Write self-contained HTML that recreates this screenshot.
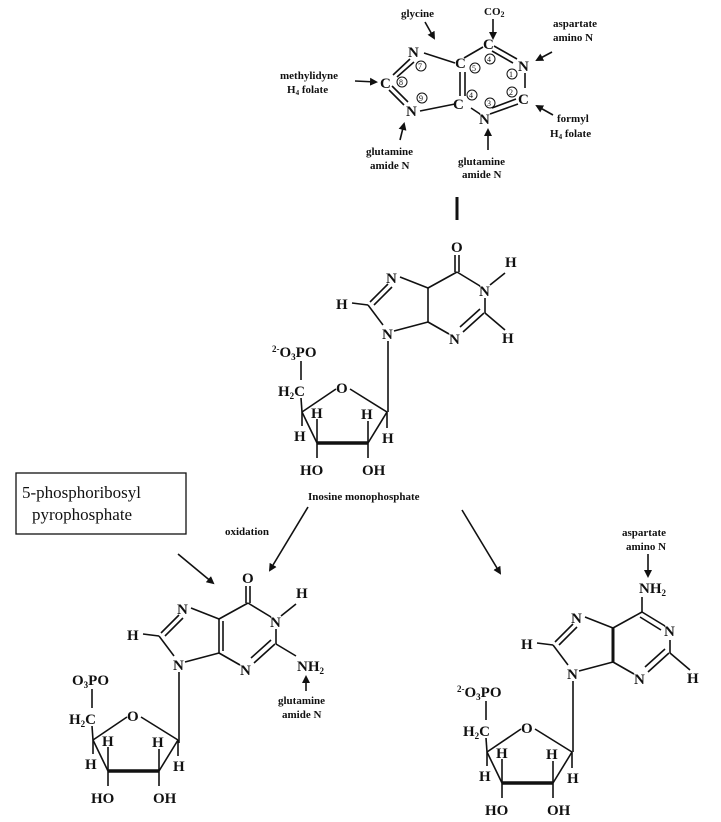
<!DOCTYPE html>
<html><head><meta charset="utf-8"><style>
html,body{margin:0;padding:0;background:#fff;}
svg{display:block;}
text{font-family:"Liberation Serif",serif;fill:#111;}
.a{font-size:15px;font-weight:bold;}
.s{font-size:11px;font-weight:bold;}
.c{font-size:8px;}
line,polyline,path{stroke:#111;stroke-width:1.6;fill:none;}
</style></head><body>
<svg width="721" height="822" viewBox="0 0 721 822" xmlns="http://www.w3.org/2000/svg">
<defs><marker id="ar" markerWidth="8" markerHeight="8" refX="6" refY="4" orient="auto" markerUnits="userSpaceOnUse"><path d="M0,0 L8,4 L0,8 z" style="fill:#111;stroke:none"/></marker></defs>

<!-- TOP PURINE -->
<g>
<text class="a" x="408" y="57">N</text>
<text class="a" x="380" y="88">C</text>
<text class="a" x="406" y="116">N</text>
<text class="a" x="455" y="68">C</text>
<text class="a" x="483" y="49">C</text>
<text class="a" x="518" y="71">N</text>
<text class="a" x="518" y="104">C</text>
<text class="a" x="479" y="124">N</text>
<text class="a" x="453" y="109">C</text>
<line x1="424" y1="53" x2="455" y2="63"/>
<line x1="464" y1="58" x2="483" y2="47"/>
<line x1="494" y1="46" x2="517" y2="59"/><line x1="492" y1="51" x2="513" y2="63"/>
<line x1="525" y1="73" x2="525" y2="88"/>
<line x1="518" y1="104" x2="490" y2="114"/><line x1="516" y1="99" x2="492" y2="108"/>
<line x1="471" y1="108" x2="480" y2="114"/>
<line x1="460" y1="72" x2="460" y2="96"/><line x1="465" y1="72" x2="465" y2="96"/>
<line x1="455" y1="104" x2="420" y2="111"/>
<line x1="410" y1="59" x2="393" y2="75"/><line x1="414" y1="62" x2="397" y2="77"/>
<line x1="392" y1="86" x2="408" y2="102"/><line x1="389" y1="90" x2="404" y2="105"/>
<g style="stroke-width:1">
<circle cx="421" cy="66" r="5" style="fill:none;stroke:#111"/><circle cx="402" cy="82" r="5" style="fill:none;stroke:#111"/><circle cx="422" cy="98" r="5" style="fill:none;stroke:#111"/>
<circle cx="475" cy="68" r="5" style="fill:none;stroke:#111"/><circle cx="490" cy="59" r="5" style="fill:none;stroke:#111"/><circle cx="512" cy="74" r="5" style="fill:none;stroke:#111"/>
<circle cx="512" cy="92" r="5" style="fill:none;stroke:#111"/><circle cx="472" cy="95" r="5" style="fill:none;stroke:#111"/><circle cx="490" cy="103" r="5" style="fill:none;stroke:#111"/>
</g>
<text class="c" x="418" y="69">7</text><text class="c" x="399" y="85">8</text><text class="c" x="419" y="101">9</text>
<text class="c" x="472" y="71">5</text><text class="c" x="487" y="62">4</text><text class="c" x="509" y="77">1</text>
<text class="c" x="509" y="95">2</text><text class="c" x="469" y="98">4</text><text class="c" x="487" y="106">3</text>
<text class="s" x="484" y="15">CO<tspan font-size="8" dy="2">2</tspan></text>
<line x1="493" y1="19" x2="493" y2="38" marker-end="url(#ar)"/>
<text class="s" x="401" y="17" font-size="10">glycine</text>
<line x1="425" y1="22" x2="434" y2="38" marker-end="url(#ar)"/>
<text class="s" x="553" y="27" font-size="10">aspartate</text>
<text class="s" x="553" y="41" font-size="10">amino N</text>
<line x1="552" y1="52" x2="537" y2="60" marker-end="url(#ar)"/>
<text class="s" x="280" y="79" font-size="10">methylidyne</text>
<text class="s" x="287" y="93" font-size="10">H<tspan font-size="7" dy="2">4</tspan><tspan dy="-2"> folate</tspan></text>
<line x1="355" y1="81" x2="376" y2="82" marker-end="url(#ar)"/>
<text class="s" x="557" y="122" font-size="10">formyl</text>
<text class="s" x="550" y="137" font-size="10">H<tspan font-size="7" dy="2">4</tspan><tspan dy="-2"> folate</tspan></text>
<line x1="553" y1="115" x2="537" y2="106" marker-end="url(#ar)"/>
<text class="s" x="366" y="155" font-size="10">glutamine</text>
<text class="s" x="370" y="169" font-size="10">amide N</text>
<line x1="400" y1="140" x2="404" y2="124" marker-end="url(#ar)"/>
<text class="s" x="458" y="165" font-size="10">glutamine</text>
<text class="s" x="462" y="178" font-size="10">amide N</text>
<line x1="488" y1="150" x2="488" y2="130" marker-end="url(#ar)"/>
<line x1="457" y1="197" x2="457" y2="220" style="stroke-width:3"/>
</g>

<!-- IMP -->
<g id="imp">
<text class="a" x="451" y="252">O</text>
<line x1="455" y1="255" x2="455" y2="272"/><line x1="459" y1="255" x2="459" y2="272"/>
<line x1="457" y1="272" x2="480" y2="286"/>
<text class="a" x="479" y="296">N</text>
<line x1="490" y1="285" x2="505" y2="273"/>
<text class="a" x="505" y="267">H</text>
<line x1="485" y1="298" x2="485" y2="313"/>
<line x1="485" y1="313" x2="505" y2="330"/>
<text class="a" x="502" y="343">H</text>
<line x1="484" y1="313" x2="463" y2="332"/><line x1="480" y1="309" x2="460" y2="327"/>
<text class="a" x="449" y="344">N</text>
<line x1="449" y1="334" x2="428" y2="322"/>
<line x1="428" y1="322" x2="428" y2="288"/>
<line x1="428" y1="288" x2="457" y2="272"/>
<line x1="428" y1="288" x2="400" y2="277"/>
<text class="a" x="386" y="283">N</text>
<line x1="388" y1="284" x2="370" y2="302"/><line x1="392" y1="287" x2="374" y2="305"/>
<line x1="368" y1="305" x2="352" y2="303"/>
<text class="a" x="336" y="309">H</text>
<line x1="368" y1="305" x2="383" y2="325"/>
<text class="a" x="382" y="339">N</text>
<line x1="394" y1="331" x2="428" y2="322"/>
<line x1="388" y1="341" x2="388" y2="412"/>
</g>
<g id="sug">
<text class="a" x="272" y="357"><tspan font-size="9" dy="-5">2-</tspan><tspan dy="5">O</tspan><tspan font-size="9" dy="3">3</tspan><tspan dy="-3">PO</tspan></text>
<line x1="301" y1="361" x2="301" y2="380"/>
<text class="a" x="278" y="396">H<tspan font-size="9" dy="3">2</tspan><tspan dy="-3">C</tspan></text>
<line x1="301" y1="398" x2="302" y2="412"/>
<line x1="302" y1="412" x2="336" y2="389"/>
<text class="a" x="336" y="393">O</text>
<line x1="350" y1="389" x2="387" y2="412"/>
<line x1="387" y1="412" x2="368" y2="443"/>
<line x1="368" y1="443" x2="317" y2="443" style="stroke-width:3.5"/>
<line x1="317" y1="443" x2="302" y2="412"/>
<line x1="302" y1="412" x2="302" y2="426"/>
<text class="a" x="294" y="441">H</text>
<line x1="317" y1="443" x2="317" y2="419"/>
<text class="a" x="311" y="418">H</text>
<line x1="368" y1="443" x2="368" y2="421"/>
<text class="a" x="361" y="419">H</text>
<line x1="387" y1="412" x2="387" y2="428"/>
<text class="a" x="382" y="443">H</text>
<line x1="317" y1="443" x2="317" y2="458"/>
<line x1="368" y1="443" x2="368" y2="458"/>
<text class="a" x="300" y="475">HO</text>
<text class="a" x="362" y="475">OH</text>
</g>
<text class="s" x="308" y="500" font-size="11">Inosine monophosphate</text>

<!-- arrows middle -->
<line x1="308" y1="507" x2="270" y2="570" marker-end="url(#ar)"/>
<text class="s" x="225" y="535" font-size="11">oxidation</text>
<line x1="462" y1="510" x2="500" y2="573" marker-end="url(#ar)"/>
<line x1="178" y1="554" x2="213" y2="583" marker-end="url(#ar)"/>

<!-- box -->
<rect x="16" y="473" width="170" height="61" style="fill:none;stroke:#111;stroke-width:1.3"/>
<text x="22" y="498" style="font-size:17px">5-phosphoribosyl</text>
<text x="32" y="520" style="font-size:17px">pyrophosphate</text>

<!-- GMP -->
<g transform="translate(-209,331)">
<text class="a" x="451" y="252">O</text>
<line x1="455" y1="255" x2="455" y2="272"/><line x1="459" y1="255" x2="459" y2="272"/>
<line x1="457" y1="272" x2="480" y2="286"/>
<text class="a" x="479" y="296">N</text>
<line x1="490" y1="285" x2="505" y2="273"/>
<text class="a" x="505" y="267">H</text>
<line x1="485" y1="298" x2="485" y2="313"/>
<line x1="485" y1="313" x2="505" y2="325"/>
<text class="a" x="506" y="340">NH<tspan font-size="9" dy="3">2</tspan></text>
<line x1="515" y1="360" x2="515" y2="346" marker-end="url(#ar)"/>
<text class="s" x="487" y="373" font-size="10">glutamine</text>
<text class="s" x="491" y="387" font-size="10">amide N</text>
<line x1="484" y1="313" x2="463" y2="332"/><line x1="480" y1="309" x2="460" y2="327"/>
<text class="a" x="449" y="344">N</text>
<line x1="449" y1="334" x2="428" y2="322"/>
<line x1="428" y1="322" x2="428" y2="288"/><line x1="432" y1="320" x2="432" y2="290"/>
<line x1="428" y1="288" x2="457" y2="272"/>
<line x1="428" y1="288" x2="400" y2="277"/>
<text class="a" x="386" y="283">N</text>
<line x1="388" y1="284" x2="370" y2="302"/><line x1="392" y1="287" x2="374" y2="305"/>
<line x1="368" y1="305" x2="352" y2="303"/>
<text class="a" x="336" y="309">H</text>
<line x1="368" y1="305" x2="383" y2="325"/>
<text class="a" x="382" y="339">N</text>
<line x1="394" y1="331" x2="428" y2="322"/>
<line x1="388" y1="341" x2="388" y2="412"/>
</g>
<g transform="translate(-209,328)">
<text class="a" x="281" y="357">O<tspan font-size="9" dy="3">3</tspan><tspan dy="-3">PO</tspan></text>
<line x1="301" y1="361" x2="301" y2="380"/>
<text class="a" x="278" y="396">H<tspan font-size="9" dy="3">2</tspan><tspan dy="-3">C</tspan></text>
<line x1="301" y1="398" x2="302" y2="412"/>
<line x1="302" y1="412" x2="336" y2="389"/>
<text class="a" x="336" y="393">O</text>
<line x1="350" y1="389" x2="387" y2="412"/>
<line x1="387" y1="412" x2="368" y2="443"/>
<line x1="368" y1="443" x2="317" y2="443" style="stroke-width:3.5"/>
<line x1="317" y1="443" x2="302" y2="412"/>
<line x1="302" y1="412" x2="302" y2="426"/>
<text class="a" x="294" y="441">H</text>
<line x1="317" y1="443" x2="317" y2="419"/>
<text class="a" x="311" y="418">H</text>
<line x1="368" y1="443" x2="368" y2="421"/>
<text class="a" x="361" y="419">H</text>
<line x1="387" y1="412" x2="387" y2="428"/>
<text class="a" x="382" y="443">H</text>
<line x1="317" y1="443" x2="317" y2="458"/>
<line x1="368" y1="443" x2="368" y2="458"/>
<text class="a" x="300" y="475">HO</text>
<text class="a" x="362" y="475">OH</text>
</g>

<!-- AMP -->
<g transform="translate(185,340)">
<text class="a" x="454" y="253">NH<tspan font-size="9" dy="3">2</tspan></text>
<text class="s" x="437" y="196" font-size="10">aspartate</text>
<text class="s" x="441" y="210" font-size="10">amino N</text>
<line x1="463" y1="214" x2="463" y2="236" marker-end="url(#ar)"/>
<line x1="457" y1="257" x2="457" y2="272"/>
<line x1="457" y1="272" x2="480" y2="286"/><line x1="455" y1="277" x2="476" y2="290"/>
<text class="a" x="479" y="296">N</text>
<line x1="485" y1="300" x2="485" y2="313"/>
<line x1="485" y1="313" x2="505" y2="330"/>
<text class="a" x="502" y="343">H</text>
<line x1="484" y1="313" x2="463" y2="332"/><line x1="480" y1="309" x2="460" y2="327"/>
<text class="a" x="449" y="344">N</text>
<line x1="449" y1="334" x2="428" y2="322"/>
<line x1="428" y1="322" x2="428" y2="288" style="stroke-width:3"/>
<line x1="428" y1="288" x2="457" y2="272"/>
<line x1="428" y1="288" x2="400" y2="277"/>
<text class="a" x="386" y="283">N</text>
<line x1="388" y1="284" x2="370" y2="302"/><line x1="392" y1="287" x2="374" y2="305"/>
<line x1="368" y1="305" x2="352" y2="303"/>
<text class="a" x="336" y="309">H</text>
<line x1="368" y1="305" x2="383" y2="325"/>
<text class="a" x="382" y="339">N</text>
<line x1="394" y1="331" x2="428" y2="322"/>
<line x1="388" y1="341" x2="388" y2="412"/>
</g>
<g transform="translate(185,340)">
<text class="a" x="272" y="357"><tspan font-size="9" dy="-5">2-</tspan><tspan dy="5">O</tspan><tspan font-size="9" dy="3">3</tspan><tspan dy="-3">PO</tspan></text>
<line x1="301" y1="361" x2="301" y2="380"/>
<text class="a" x="278" y="396">H<tspan font-size="9" dy="3">2</tspan><tspan dy="-3">C</tspan></text>
<line x1="301" y1="398" x2="302" y2="412"/>
<line x1="302" y1="412" x2="336" y2="389"/>
<text class="a" x="336" y="393">O</text>
<line x1="350" y1="389" x2="387" y2="412"/>
<line x1="387" y1="412" x2="368" y2="443"/>
<line x1="368" y1="443" x2="317" y2="443" style="stroke-width:3.5"/>
<line x1="317" y1="443" x2="302" y2="412"/>
<line x1="302" y1="412" x2="302" y2="426"/>
<text class="a" x="294" y="441">H</text>
<line x1="317" y1="443" x2="317" y2="419"/>
<text class="a" x="311" y="418">H</text>
<line x1="368" y1="443" x2="368" y2="421"/>
<text class="a" x="361" y="419">H</text>
<line x1="387" y1="412" x2="387" y2="428"/>
<text class="a" x="382" y="443">H</text>
<line x1="317" y1="443" x2="317" y2="458"/>
<line x1="368" y1="443" x2="368" y2="458"/>
<text class="a" x="300" y="475">HO</text>
<text class="a" x="362" y="475">OH</text>
</g>
</svg>
</body></html>
